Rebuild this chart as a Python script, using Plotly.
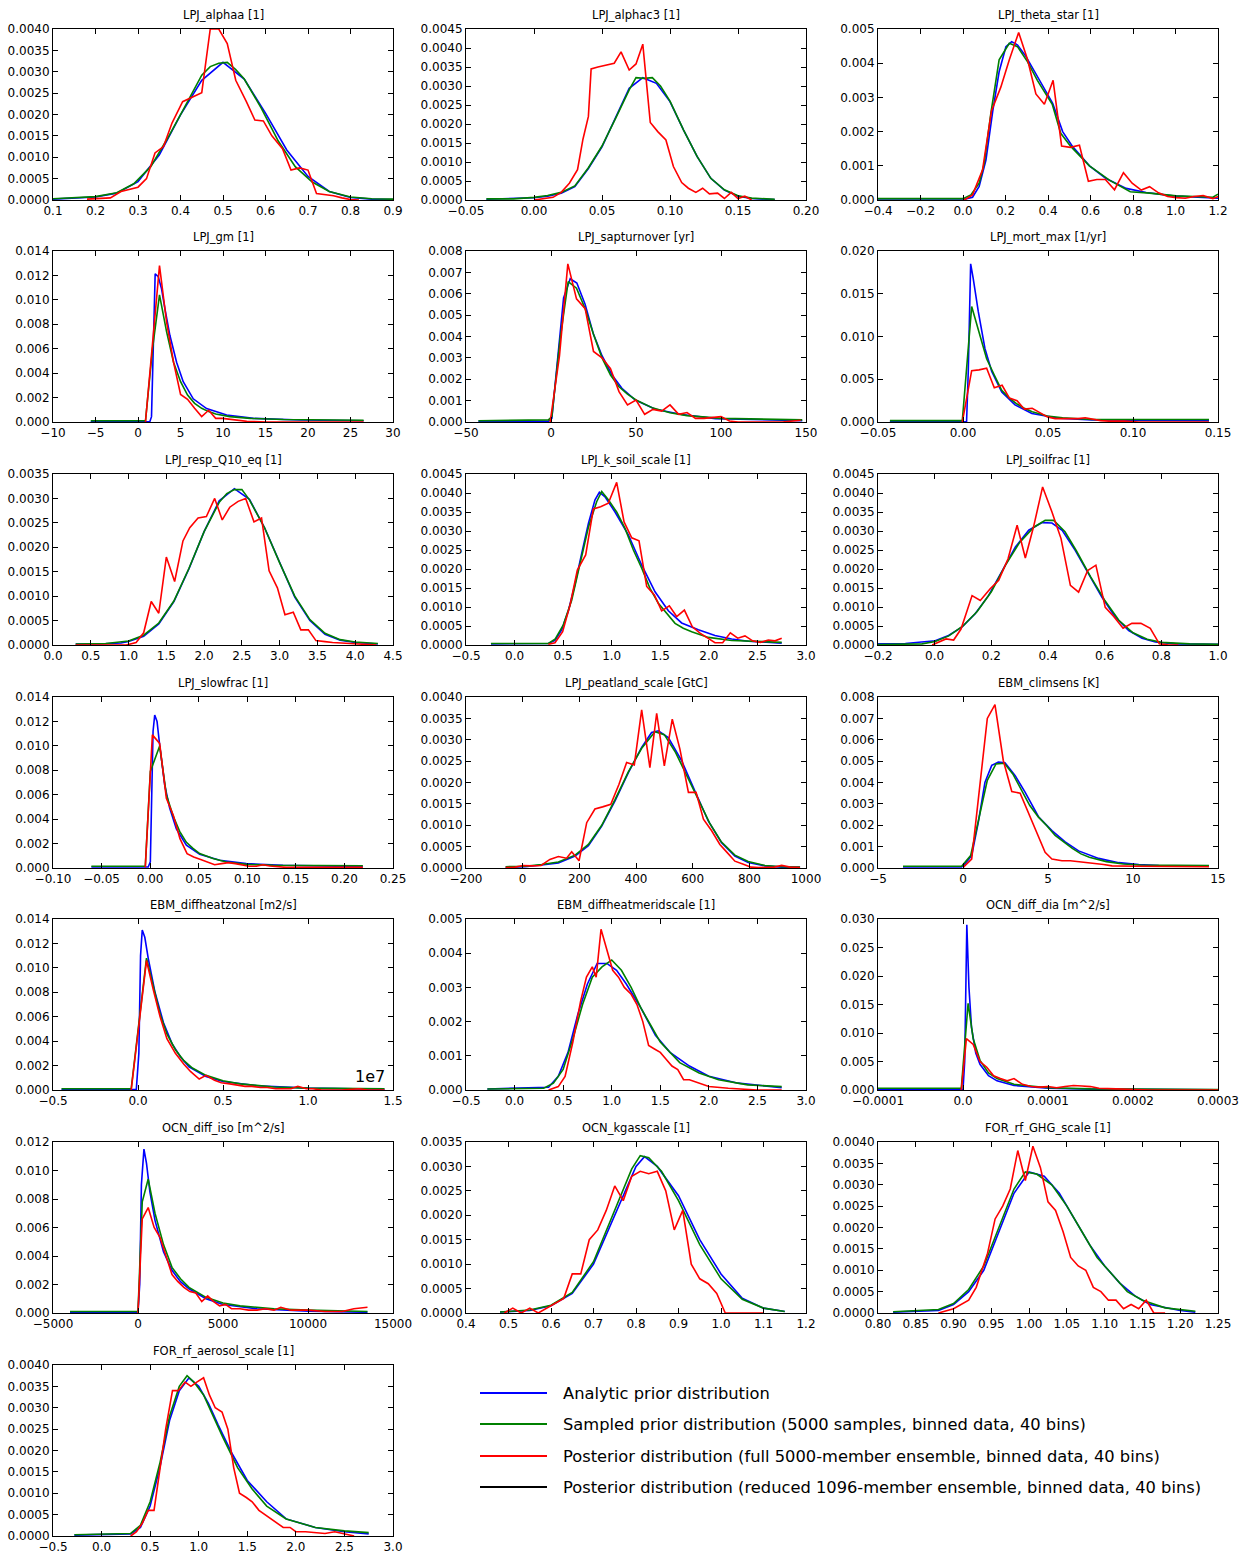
import plotly.graph_objects as go

MINUS = "\u2212"

# ---------------- Panel data ----------------
# Each series is a list of (x, y) pairs.

# 1 LPJ_alphaa [1]
alphaa_title = "LPJ_alphaa [1]"
alphaa_xt = ["0.1", "0.2", "0.3", "0.4", "0.5", "0.6", "0.7", "0.8", "0.9"]
alphaa_yt = ["0.0000", "0.0005", "0.0010", "0.0015", "0.0020", "0.0025", "0.0030", "0.0035", "0.0040"]
alphaa_blue = [(0.10, 0.00002), (0.15, 0.00004), (0.20, 0.00007), (0.25, 0.00016), (0.30, 0.00043), (0.35, 0.00105),
               (0.40, 0.00199), (0.45, 0.00280), (0.50, 0.00322), (0.55, 0.00283), (0.60, 0.00203), (0.65, 0.00117),
               (0.70, 0.00055), (0.75, 0.00020), (0.80, 0.00006), (0.85, 0.00002), (0.90, 0.00001)]
alphaa_green = [(0.10, 0.00003), (0.15, 0.00005), (0.20, 0.00008), (0.25, 0.00017), (0.29, 0.00038), (0.33, 0.00078),
                (0.37, 0.00145), (0.41, 0.00218), (0.45, 0.00292), (0.47, 0.00312), (0.49, 0.00320), (0.51, 0.00322),
                (0.53, 0.00305), (0.55, 0.00283), (0.59, 0.00215), (0.63, 0.00138), (0.67, 0.00078), (0.71, 0.00042),
                (0.75, 0.00020), (0.80, 0.00007), (0.85, 0.00003), (0.90, 0.00002)]
alphaa_red = [(0.18, 0.00002), (0.21, 0.00003), (0.235, 0.00005), (0.26, 0.00020), (0.28, 0.00025), (0.30, 0.00030),
              (0.32, 0.00050), (0.34, 0.00110), (0.36, 0.00125), (0.38, 0.00180), (0.405, 0.00230), (0.425, 0.00240),
              (0.45, 0.00251), (0.47, 0.00400), (0.49, 0.00400), (0.51, 0.00366), (0.53, 0.00280), (0.555, 0.00230),
              (0.575, 0.00187), (0.595, 0.00185), (0.615, 0.00150), (0.64, 0.00120), (0.66, 0.00070), (0.68, 0.00075),
              (0.70, 0.00070), (0.72, 0.00015), (0.74, 0.00013), (0.76, 0.00010), (0.78, 0.00005), (0.80, 0.00001),
              (0.82, 0.0)]

# 2 LPJ_alphac3 [1]
alphac3_title = "LPJ_alphac3 [1]"
alphac3_xt = ["\u22120.05", "0.00", "0.05", "0.10", "0.15", "0.20"]
alphac3_yt = ["0.0000", "0.0005", "0.0010", "0.0015", "0.0020", "0.0025", "0.0030", "0.0035", "0.0040", "0.0045"]
alphac3_blue = [(-0.035, 0.00002), (-0.02, 0.00003), (0.0, 0.00006), (0.01, 0.0001), (0.02, 0.00018), (0.03, 0.00035),
                (0.04, 0.00083), (0.05, 0.0014), (0.06, 0.00215), (0.07, 0.00294), (0.08, 0.00322), (0.09, 0.00307),
                (0.10, 0.00259), (0.11, 0.00184), (0.12, 0.00114), (0.13, 0.00057), (0.14, 0.00026), (0.15, 0.0001),
                (0.16, 0.00004), (0.177, 0.00001)]
alphac3_green = [(-0.035, 0.00003), (-0.015, 0.00003), (0.0, 0.00007), (0.01, 0.00012), (0.02, 0.0002), (0.03, 0.00037),
                 (0.04, 0.00085), (0.05, 0.00142), (0.06, 0.00215), (0.07, 0.0029), (0.075, 0.00322), (0.081, 0.0032),
                 (0.087, 0.00322), (0.093, 0.003), (0.10, 0.0026), (0.11, 0.00184), (0.12, 0.00114), (0.13, 0.00057),
                 (0.14, 0.00027), (0.15, 0.00011), (0.16, 0.00005), (0.177, 0.00002)]
alphac3_red = [(0.0, 0.0), (0.014, 0.00007), (0.020, 0.0002), (0.026, 0.00044), (0.032, 0.0008), (0.036, 0.0016),
               (0.040, 0.0022), (0.042, 0.00345), (0.047, 0.0035), (0.053, 0.00355), (0.059, 0.0036), (0.064, 0.0039),
               (0.070, 0.00342), (0.075, 0.00358), (0.080, 0.0041), (0.0855, 0.00204), (0.091, 0.0018), (0.097, 0.00158),
               (0.1025, 0.00088), (0.1086, 0.00046), (0.1135, 0.00031), (0.119, 0.0002), (0.124, 0.00031), (0.129, 0.00016),
               (0.135, 0.00018), (0.140, 0.00004), (0.145, 0.0002), (0.150, 0.00004), (0.155, 0.0001), (0.160, 0.0)]

# 3 LPJ_theta_star [1]
theta_title = "LPJ_theta_star [1]"
theta_xt = ["\u22120.4", "\u22120.2", "0.0", "0.2", "0.4", "0.6", "0.8", "1.0", "1.2"]
theta_yt = ["0.000", "0.001", "0.002", "0.003", "0.004", "0.005"]
theta_blue = [(-0.4, 0.00003), (0.013, 0.00003), (0.045, 0.00008), (0.076, 0.0004), (0.108, 0.00117), (0.14, 0.0026),
              (0.17, 0.00375), (0.202, 0.00448), (0.229, 0.00463), (0.257, 0.00453), (0.296, 0.0042), (0.359, 0.0035),
              (0.422, 0.00283), (0.469, 0.002), (0.516, 0.00156), (0.595, 0.001), (0.673, 0.00063), (0.768, 0.00034),
              (0.862, 0.00022), (0.988, 0.00012), (1.2, 0.00005)]
theta_green = [(-0.4, 0.00004), (0.0, 0.00004), (0.037, 0.00015), (0.076, 0.00049), (0.1, 0.00107), (0.131, 0.00253),
               (0.17, 0.0041), (0.218, 0.00458), (0.257, 0.00448), (0.304, 0.00404), (0.35, 0.0035), (0.42, 0.0028),
               (0.46, 0.00195), (0.508, 0.00156), (0.595, 0.001), (0.689, 0.00058), (0.787, 0.00024), (0.878, 0.0002),
               (1.003, 0.00012), (1.176, 0.00008), (1.2, 0.00017)]
theta_red = [(0.0055, 0.0), (0.045, 0.00015), (0.092, 0.00088), (0.134, 0.0026), (0.178, 0.0033), (0.218, 0.0041),
             (0.262, 0.0049), (0.304, 0.0041), (0.343, 0.0031), (0.383, 0.0028), (0.424, 0.0035), (0.464, 0.00158),
             (0.505, 0.00154), (0.548, 0.0016), (0.59, 0.00055), (0.63, 0.0006), (0.67, 0.0006), (0.713, 0.0003),
             (0.755, 0.0008), (0.796, 0.00049), (0.839, 0.00029), (0.878, 0.00039), (0.92, 0.00021), (0.963, 0.0001),
             (1.003, 0.00007), (1.046, 0.00005), (1.087, 0.0001), (1.13, 0.00013), (1.176, 0.00004), (1.2, 0.0001)]

# 4 LPJ_gm [1]
gm_title = "LPJ_gm [1]"
gm_xt = ["\u221210", "\u22125", "0", "5", "10", "15", "20", "25", "30"]
gm_yt = ["0.000", "0.002", "0.004", "0.006", "0.008", "0.010", "0.012", "0.014"]
gm_blue = [(-5.56, 0.00002), (1.39, 0.00002), (1.59, 0.00044), (2.02, 0.01214), (2.38, 0.0119), (2.77, 0.0109),
           (3.16, 0.0093), (3.75, 0.0071), (4.54, 0.0049), (5.32, 0.0033), (6.5, 0.0019), (8.07, 0.0011),
           (10.43, 0.00057), (13.58, 0.0003), (19.08, 0.00016), (26.54, 0.0001)]
gm_green = [(-5.56, 0.0001), (0.88, 0.0001), (1.71, 0.006), (2.53, 0.0104), (3.36, 0.0074), (4.18, 0.0049),
            (5.01, 0.0033), (5.83, 0.0022), (6.66, 0.00153), (7.49, 0.00112), (8.31, 0.00085), (9.14, 0.00065),
            (10.8, 0.00044), (13.2, 0.0003), (17.1, 0.0002), (26.54, 0.00014)]
gm_red = [(0.88, 0.0), (1.71, 0.0063), (2.53, 0.0128), (3.36, 0.0082), (4.18, 0.0049), (5.01, 0.00226),
          (5.83, 0.00186), (6.66, 0.00112), (7.49, 0.00044), (8.31, 0.00096), (9.14, 0.0003), (9.96, 0.0003),
          (10.79, 0.00022), (11.6, 0.00014), (12.8, 0.00005), (15.15, 0.0), (26.54, 0.0)]

# 5 LPJ_sapturnover [yr]
sap_title = "LPJ_sapturnover [yr]"
sap_xt = ["\u221250", "0", "50", "100", "150"]
sap_yt = ["0.000", "0.001", "0.002", "0.003", "0.004", "0.005", "0.006", "0.007", "0.008"]
sap_blue = [(-42.7, 0.00003), (-1.5, 0.00003), (0.5, 0.00017), (3.4, 0.0024), (7.4, 0.0058), (11.3, 0.0067),
            (15.2, 0.0065), (20.1, 0.0055), (25.0, 0.0041), (30.0, 0.0031), (35.9, 0.0022), (41.7, 0.00158),
            (49.6, 0.00103), (61.4, 0.0006), (77.0, 0.00035), (96.8, 0.00016), (147.8, 0.00006)]
sap_green = [(-42.7, 0.00006), (-1.5, 0.0001), (0.5, 0.00025), (5.4, 0.0039), (10.1, 0.00657), (15.0, 0.00626),
             (20.1, 0.0053), (25.0, 0.0041), (30.0, 0.003), (35.0, 0.0022), (40.0, 0.00165), (45.0, 0.0013),
             (50.0, 0.00103), (60.0, 0.00065), (70.0, 0.00043), (80.0, 0.0003), (100.0, 0.00017), (147.8, 0.0001)]
sap_red = [(-0.5, 0.0), (5.0, 0.0031), (9.9, 0.0074), (15.0, 0.00576), (20.1, 0.0053), (25.0, 0.0033), (30.0, 0.003),
           (35.0, 0.0025), (40.0, 0.00142), (45.0, 0.0008), (50.0, 0.00103), (55.1, 0.00036), (60.0, 0.00059),
           (65.1, 0.00051), (70.0, 0.0008), (75.1, 0.00036), (80.0, 0.00044), (85.0, 0.00017), (90.0, 0.00017),
           (95.0, 0.0002), (100.0, 0.00025), (105.0, 0.00005), (110.0, 0.0), (136.0, 0.0), (146.9, 0.00008)]

# 6 LPJ_mort_max [1/yr]
mort_title = "LPJ_mort_max [1/yr]"
mort_xt = ["\u22120.05", "0.00", "0.05", "0.10", "0.15"]
mort_yt = ["0.000", "0.005", "0.010", "0.015", "0.020"]
mort_blue = [(-0.043, 0.00003), (0.0021, 0.00003), (0.0031, 0.0059), (0.0045, 0.0185), (0.006, 0.0168), (0.009, 0.0129),
             (0.0129, 0.0086), (0.0169, 0.0059), (0.0228, 0.0035), (0.0306, 0.002), (0.0405, 0.001), (0.0562, 0.00043),
             (0.0759, 0.00023), (0.1152, 0.00016), (0.1447, 0.00016)]
mort_green = [(-0.043, 0.00016), (-0.0004, 0.00016), (0.0051, 0.0135), (0.0094, 0.0106), (0.0139, 0.0074),
              (0.0184, 0.0055), (0.0228, 0.0037), (0.0273, 0.0028), (0.0318, 0.0021), (0.0361, 0.0016),
              (0.0407, 0.0012), (0.0495, 0.0007), (0.0586, 0.0005), (0.0759, 0.0003), (0.1447, 0.0003)]
mort_red = [(-0.0004, 0.0), (0.0051, 0.006), (0.0094, 0.0061), (0.0139, 0.0063), (0.0184, 0.004), (0.023, 0.0043),
            (0.0273, 0.0028), (0.0318, 0.0025), (0.0361, 0.0015), (0.0407, 0.0016), (0.0452, 0.0011), (0.0497, 0.0006),
            (0.0542, 0.0004), (0.0586, 0.0004), (0.0631, 0.0004), (0.0676, 0.0004), (0.0719, 0.0005), (0.0765, 0.0003),
            (0.081, 0.00016), (0.0857, 0.0001), (0.0946, 0.0001), (0.1034, 0.0), (0.1447, 0.0)]

# 7 LPJ_resp_Q10_eq [1]
q10_title = "LPJ_resp_Q10_eq [1]"
q10_xt = ["0.0", "0.5", "1.0", "1.5", "2.0", "2.5", "3.0", "3.5", "4.0", "4.5"]
q10_yt = ["0.0000", "0.0005", "0.0010", "0.0015", "0.0020", "0.0025", "0.0030", "0.0035"]
q10_blue = [(0.3, 0.00002), (0.6, 0.00002), (0.9, 0.00004), (1.0, 0.00007), (1.2, 0.00018), (1.4, 0.00043),
            (1.6, 0.00089), (1.8, 0.00156), (2.0, 0.00232), (2.2, 0.00295), (2.4, 0.0032), (2.6, 0.00298),
            (2.8, 0.0024), (3.0, 0.00168), (3.2, 0.00098), (3.4, 0.0005), (3.6, 0.00022), (3.8, 0.0001),
            (4.0, 0.00005), (4.3, 0.00002)]
q10_green = [(0.3, 0.00002), (0.7, 0.00003), (1.0, 0.00008), (1.2, 0.0002), (1.4, 0.00045), (1.6, 0.0009),
             (1.8, 0.00157), (2.0, 0.00232), (2.2, 0.00292), (2.3, 0.0031), (2.4, 0.00318), (2.5, 0.00318),
             (2.6, 0.00297), (2.8, 0.0024), (3.0, 0.00168), (3.2, 0.001), (3.4, 0.00052), (3.6, 0.00024),
             (3.8, 0.00011), (4.0, 0.00006), (4.3, 0.00003)]
q10_red = [(0.3, 0.0), (0.97, 0.0), (1.1, 0.00005), (1.2, 0.00025), (1.3, 0.00089), (1.4, 0.00065), (1.5, 0.0018),
           (1.61, 0.0013), (1.72, 0.00213), (1.81, 0.0024), (1.92, 0.0026), (2.03, 0.00263), (2.14, 0.003),
           (2.24, 0.00256), (2.34, 0.00282), (2.45, 0.00294), (2.55, 0.003), (2.66, 0.00252), (2.76, 0.0026),
           (2.86, 0.00152), (2.97, 0.00117), (3.07, 0.00062), (3.18, 0.00067), (3.28, 0.00031), (3.38, 0.00031),
           (3.48, 0.00009), (3.6, 0.00007), (3.7, 0.00005), (3.93, 0.00003), (4.28, 0.0)]

# 8 LPJ_k_soil_scale [1]
ksoil_title = "LPJ_k_soil_scale [1]"
ksoil_xt = ["\u22120.5", "0.0", "0.5", "1.0", "1.5", "2.0", "2.5", "3.0"]
ksoil_yt = ["0.0000", "0.0005", "0.0010", "0.0015", "0.0020", "0.0025", "0.0030", "0.0035", "0.0040", "0.0045"]
ksoil_blue = [(-0.243, 0.00003), (0.348, 0.00004), (0.416, 0.00012), (0.485, 0.0004), (0.554, 0.0009),
              (0.622, 0.0016), (0.69, 0.0024), (0.76, 0.0032), (0.828, 0.00382), (0.873, 0.00402), (0.931, 0.0039),
              (1.034, 0.0035), (1.171, 0.0029), (1.309, 0.0021), (1.446, 0.0014), (1.583, 0.0009), (1.72, 0.00058),
              (1.892, 0.0004), (2.063, 0.00025), (2.235, 0.00016), (2.407, 0.0001), (2.75, 0.00005)]
ksoil_green = [(-0.243, 0.00004), (0.348, 0.00004), (0.416, 0.00015), (0.502, 0.00053), (0.588, 0.00118),
               (0.674, 0.00215), (0.76, 0.0031), (0.845, 0.00377), (0.897, 0.00404), (0.965, 0.00382),
               (1.051, 0.0035), (1.137, 0.00307), (1.223, 0.0025), (1.309, 0.00202), (1.394, 0.00149),
               (1.48, 0.0011), (1.566, 0.00083), (1.652, 0.00057), (1.737, 0.00044), (1.823, 0.00035),
               (1.995, 0.0002), (2.235, 0.00012), (2.75, 0.00007)]
ksoil_red = [(0.348, 0.00002), (0.416, 0.00006), (0.495, 0.00035), (0.571, 0.00105), (0.646, 0.00197),
             (0.732, 0.00237), (0.811, 0.00358), (0.886, 0.00364), (0.965, 0.00373), (1.051, 0.00428),
             (1.127, 0.00324), (1.206, 0.00282), (1.281, 0.00274), (1.36, 0.00154), (1.439, 0.00132),
             (1.514, 0.0009), (1.593, 0.00103), (1.669, 0.00075), (1.748, 0.00092), (1.83, 0.00048),
             (1.909, 0.00031), (1.988, 0.00018), (2.063, 0.00006), (2.142, 0.00006), (2.221, 0.00032),
             (2.297, 0.00018), (2.372, 0.00024), (2.451, 0.00011), (2.53, 0.00007), (2.612, 0.00013),
             (2.681, 0.00011), (2.75, 0.00018)]

# 9 LPJ_soilfrac [1]
soilfrac_title = "LPJ_soilfrac [1]"
soilfrac_xt = ["\u22120.2", "0.0", "0.2", "0.4", "0.6", "0.8", "1.0"]
soilfrac_yt = ["0.0000", "0.0005", "0.0010", "0.0015", "0.0020", "0.0025", "0.0030", "0.0035", "0.0040", "0.0045"]
soilfrac_blue = [(-0.2, 0.00003), (-0.1035, 0.00004), (0.002, 0.00011), (0.049, 0.00025), (0.096, 0.00047),
                 (0.143, 0.00082), (0.19, 0.0013), (0.238, 0.00196), (0.285, 0.00258), (0.332, 0.00302),
                 (0.379, 0.00322), (0.414, 0.00321), (0.45, 0.00302), (0.496, 0.00249), (0.544, 0.00188),
                 (0.59, 0.00126), (0.638, 0.00073), (0.685, 0.00038), (0.732, 0.00018), (0.779, 0.00008),
                 (0.85, 0.00003), (1.0, 0.00002)]
soilfrac_green = [(-0.2, 0.00001), (-0.045, 0.00003), (0.002, 0.00009), (0.05, 0.00024), (0.1, 0.0005),
                  (0.15, 0.00088), (0.2, 0.0014), (0.25, 0.0021), (0.3, 0.0027), (0.35, 0.0031), (0.39, 0.00328),
                  (0.42, 0.00328), (0.46, 0.00298), (0.5, 0.00248), (0.55, 0.0018), (0.6, 0.00118), (0.65, 0.00065),
                  (0.7, 0.00032), (0.75, 0.00015), (0.8, 0.00007), (0.9, 0.00003), (1.0, 0.00002)]
soilfrac_red = [(-0.009, 0.0), (0.014, 0.00007), (0.04, 0.00016), (0.067, 0.00013), (0.093, 0.00042), (0.132, 0.0013),
                (0.161, 0.00117), (0.196, 0.00148), (0.226, 0.0017), (0.259, 0.00227), (0.291, 0.00315),
                (0.32, 0.00229), (0.349, 0.00311), (0.381, 0.00416), (0.414, 0.0035), (0.446, 0.0028),
                (0.479, 0.00157), (0.508, 0.00139), (0.54, 0.00196), (0.569, 0.0021), (0.602, 0.00099),
                (0.632, 0.00075), (0.665, 0.00044), (0.696, 0.00057), (0.728, 0.00057), (0.761, 0.00044),
                (0.793, 0.00003), (0.826, 0.0), (0.86, 0.0)]

# 10 LPJ_slowfrac [1]
slow_title = "LPJ_slowfrac [1]"
slow_xt = ["\u22120.10", "\u22120.05", "0.00", "0.05", "0.10", "0.15", "0.20", "0.25"]
slow_yt = ["0.000", "0.002", "0.004", "0.006", "0.008", "0.010", "0.012", "0.014"]
slow_blue = [(-0.0605, 0.00008), (-0.002, 0.00008), (0.0002, 0.0005), (0.003, 0.0112), (0.0047, 0.01253),
             (0.0071, 0.012), (0.0098, 0.01007), (0.015, 0.0068), (0.0201, 0.0049), (0.027, 0.0032),
             (0.0373, 0.00186), (0.051, 0.00112), (0.0716, 0.00063), (0.099, 0.00036), (0.1368, 0.00022),
             (0.219, 0.00011)]
slow_green = [(-0.0605, 0.00014), (-0.005, 0.00014), (0.0002, 0.0079), (0.0098, 0.00999), (0.0167, 0.006),
              (0.0235, 0.0043), (0.0304, 0.003), (0.0373, 0.0021), (0.0441, 0.0016), (0.051, 0.00118),
              (0.0647, 0.00077), (0.0784, 0.00049), (0.099, 0.0003), (0.1265, 0.00022), (0.219, 0.00019)]
slow_red = [(-0.005, 0.00005), (0.0023, 0.0109), (0.0098, 0.0102), (0.0167, 0.0057), (0.0239, 0.0043),
            (0.0307, 0.0024), (0.038, 0.00118), (0.0448, 0.0009), (0.052, 0.0007), (0.0592, 0.0005),
            (0.0664, 0.00027), (0.0736, 0.00036), (0.0805, 0.00044), (0.0877, 0.00036), (0.0949, 0.00022),
            (0.1018, 0.00014), (0.1093, 0.00014), (0.1162, 0.00027), (0.1231, 0.00016), (0.13, 0.0001),
            (0.14, 0.00005), (0.219, 0.00005)]

# 11 LPJ_peatland_scale [GtC]
peat_title = "LPJ_peatland_scale [GtC]"
peat_xt = ["\u2212200", "0", "200", "400", "600", "800", "1000"]
peat_yt = ["0.0000", "0.0005", "0.0010", "0.0015", "0.0020", "0.0025", "0.0030", "0.0035", "0.0040"]
peat_blue = [(-60, 0.00002), (8, 0.00003), (67, 0.00007), (126, 0.00012), (185, 0.00028), (232, 0.00052),
             (279, 0.00098), (326, 0.00157), (373, 0.00223), (420, 0.00282), (455, 0.00317), (479, 0.00321),
             (514, 0.00305), (561, 0.00251), (608, 0.0018), (655, 0.0011), (702, 0.00059), (749, 0.00028),
             (796, 0.00013), (855, 0.00005), (914, 0.00002), (979, 0.00002)]
peat_green = [(-60, 0.00003), (8, 0.00004), (67, 0.00008), (126, 0.00014), (185, 0.0003), (232, 0.00055),
              (279, 0.001), (326, 0.0016), (373, 0.00225), (420, 0.0028), (467, 0.00319), (500, 0.00312),
              (540, 0.0027), (580, 0.00215), (620, 0.0016), (660, 0.00105), (700, 0.00062), (749, 0.0003),
              (796, 0.00015), (855, 0.00006), (914, 0.00003), (979, 0.00002)]
peat_red = [(-60, 0.00001), (-27, 0.00002), (2, 0.00006), (32, 0.00005), (65, 0.00006), (96, 0.0002), (126, 0.00027),
            (155, 0.00023), (173, 0.00038), (199, 0.00017), (226, 0.00106), (255, 0.00138), (282, 0.00143),
            (311, 0.00149), (340, 0.00196), (367, 0.00247), (394, 0.00241), (420, 0.0037), (449, 0.00235),
            (473, 0.00362), (500, 0.00239), (528, 0.00348), (555, 0.00278), (585, 0.00177), (612, 0.00177),
            (638, 0.00114), (667, 0.00087), (696, 0.00055), (722, 0.00036), (749, 0.00016), (779, 0.00009),
            (806, 0.00002), (832, 0.00001), (861, 0.00001), (888, 0.00002), (914, 0.00006), (944, 0.00002),
            (979, 0.00001)]

# 12 EBM_climsens [K]
clim_title = "EBM_climsens [K]"
clim_xt = ["\u22125", "0", "5", "10", "15"]
clim_yt = ["0.000", "0.001", "0.002", "0.003", "0.004", "0.005", "0.006", "0.007", "0.008"]
clim_blue = [(-3.53, 0.00005), (-0.08, 0.00005), (0.11, 0.00019), (0.51, 0.00058), (0.9, 0.00214), (1.29, 0.004),
             (1.69, 0.0048), (2.08, 0.00495), (2.47, 0.00492), (3.06, 0.00433), (3.65, 0.00355), (4.44, 0.0024),
             (5.23, 0.00175), (6.01, 0.00122), (6.8, 0.0008), (7.98, 0.00045), (9.16, 0.00025), (10.34, 0.00016),
             (11.52, 0.00012), (14.47, 0.00008)]
clim_green = [(-3.53, 0.00008), (-0.08, 0.00008), (0.45, 0.00058), (0.94, 0.0023), (1.43, 0.0041), (1.94, 0.00487),
              (2.43, 0.0049), (2.93, 0.0044), (3.44, 0.00363), (3.93, 0.00292), (4.44, 0.00238), (4.93, 0.00198),
              (5.42, 0.00152), (5.93, 0.0012), (6.43, 0.00092), (6.94, 0.00066), (7.43, 0.0005), (8.43, 0.0003),
              (9.43, 0.00019), (10.44, 0.00014), (14.47, 0.00011)]
clim_red = [(0.01, 0.00003), (0.51, 0.00042), (1.43, 0.007), (1.88, 0.00764), (2.37, 0.00503), (2.87, 0.00358),
            (3.36, 0.0035), (3.85, 0.0026), (4.34, 0.00167), (4.83, 0.00073), (5.23, 0.00042), (5.82, 0.00034),
            (6.31, 0.00034), (6.8, 0.0003), (7.29, 0.00023), (7.78, 0.00022), (8.27, 0.00016), (8.77, 0.0001),
            (9.26, 0.0001), (9.75, 0.0001), (10.24, 0.00008), (14.47, 0.00006)]

# 13 EBM_diffheatzonal [m2/s]  (x in units of 1e7)
zonal_title = "EBM_diffheatzonal [m2/s]"
zonal_xt = ["\u22120.5", "0.0", "0.5", "1.0", "1.5"]
zonal_yt = ["0.000", "0.002", "0.004", "0.006", "0.008", "0.010", "0.012", "0.014"]
zonal_offset = "1e7"
zonal_blue = [(-0.45, 0.00003), (-0.01, 0.00003), (0.005, 0.003), (0.015, 0.011), (0.025, 0.0131), (0.04, 0.0125),
              (0.06, 0.0108), (0.1, 0.008), (0.15, 0.0055), (0.2, 0.0038), (0.25, 0.0027), (0.3, 0.0019),
              (0.4, 0.0011), (0.5, 0.0007), (0.7, 0.00035), (1.0, 0.00015), (1.45, 0.00006)]
zonal_green = [(-0.45, 0.0001), (-0.04, 0.0001), (0.05, 0.0108), (0.09, 0.0084), (0.13, 0.0062), (0.17, 0.0046),
               (0.22, 0.0033), (0.27, 0.0024), (0.32, 0.0018), (0.4, 0.0012), (0.5, 0.00075), (0.6, 0.0005),
               (0.8, 0.00025), (1.0, 0.00015), (1.45, 0.0001)]
zonal_red = [(-0.04, 0.0), (0.05, 0.0106), (0.09, 0.0082), (0.13, 0.006), (0.17, 0.0042), (0.22, 0.003),
             (0.27, 0.0021), (0.31, 0.0015), (0.36, 0.0009), (0.4, 0.0012), (0.45, 0.0008), (0.49, 0.0006),
             (0.54, 0.0005), (0.58, 0.0004), (0.63, 0.0003), (0.67, 0.0003), (0.72, 0.0002), (0.76, 0.0002),
             (0.81, 0.0001), (0.85, 0.0001), (0.9, 0.0001), (0.94, 0.0003), (0.99, 0.0001), (1.03, 0.0001),
             (1.08, 0.0), (1.2, 0.0), (1.3, 0.0001), (1.35, 0.0), (1.45, 0.0)]

# 14 EBM_diffheatmeridscale [1]
merid_title = "EBM_diffheatmeridscale [1]"
merid_xt = ["\u22120.5", "0.0", "0.5", "1.0", "1.5", "2.0", "2.5", "3.0"]
merid_yt = ["0.000", "0.001", "0.002", "0.003", "0.004", "0.005"]
merid_blue = [(-0.28, 0.00003), (0.35, 0.00008), (0.45, 0.0004), (0.55, 0.0011), (0.65, 0.0022), (0.75, 0.0031),
              (0.85, 0.0037), (0.95, 0.0037), (1.05, 0.0035), (1.15, 0.0031), (1.3, 0.0024), (1.45, 0.0016),
              (1.6, 0.0011), (1.8, 0.0007), (2.0, 0.0004), (2.3, 0.0002), (2.75, 0.00007)]
merid_green = [(-0.28, 0.00003), (0.3, 0.00005), (0.4, 0.0002), (0.5, 0.0006), (0.6, 0.0015), (0.7, 0.0025),
               (0.8, 0.0033), (0.9, 0.0036), (1.0, 0.0038), (1.1, 0.0035), (1.2, 0.003), (1.3, 0.0024),
               (1.4, 0.0019), (1.5, 0.0014), (1.7, 0.0008), (1.9, 0.0005), (2.1, 0.0003), (2.4, 0.00015),
               (2.75, 0.0001)]
merid_red = [(0.35, 0.0), (0.45, 0.0001), (0.52, 0.0004), (0.6, 0.0014), (0.68, 0.0026), (0.74, 0.0033),
             (0.8, 0.0036), (0.84, 0.0033), (0.89, 0.0047), (0.95, 0.0041), (1.01, 0.0035), (1.07, 0.0033),
             (1.13, 0.003), (1.2, 0.0028), (1.26, 0.0025), (1.32, 0.002), (1.38, 0.0013), (1.44, 0.0012),
             (1.5, 0.0011), (1.56, 0.0009), (1.62, 0.0007), (1.68, 0.0006), (1.74, 0.0003), (1.8, 0.0003),
             (1.9, 0.0002), (2.0, 0.0001), (2.2, 0.00005), (2.5, 0.0), (2.75, 0.0)]

# 15 OCN_diff_dia [m^2/s]
dia_title = "OCN_diff_dia [m^2/s]"
dia_xt = ["\u22120.0001", "0.0", "0.0001", "0.0002", "0.0003"]
dia_yt = ["0.000", "0.005", "0.010", "0.015", "0.020", "0.025", "0.030"]
dia_blue = [(-0.0001, 0.00005), (0.0, 0.00005), (0.000002, 0.005), (0.0000045, 0.029), (0.000007, 0.018),
            (0.00001, 0.011), (0.000015, 0.0065), (0.00002, 0.0045), (0.00003, 0.0025), (0.00004, 0.0016),
            (0.00006, 0.0008), (0.0001, 0.0003), (0.00015, 0.00015), (0.0002, 0.0001), (0.0003, 0.00005)]
dia_green = [(-0.0001, 0.0003), (-0.000002, 0.0003), (0.000006, 0.0152), (0.000012, 0.009), (0.00002, 0.0052),
             (0.00003, 0.003), (0.00004, 0.002), (0.00006, 0.001), (0.0001, 0.0004), (0.00015, 0.0002),
             (0.0003, 0.0001)]
dia_red = [(-0.000002, 0.0), (0.000004, 0.009), (0.000012, 0.008), (0.00002, 0.005), (0.000028, 0.004),
           (0.000036, 0.0025), (0.000044, 0.002), (0.000052, 0.0016), (0.00006, 0.002), (0.00007, 0.001),
           (0.00008, 0.0006), (0.00009, 0.0005), (0.0001, 0.0006), (0.00011, 0.0004), (0.00012, 0.0006),
           (0.00013, 0.0008), (0.00014, 0.0007), (0.00015, 0.0006), (0.00016, 0.0003), (0.00017, 0.0003),
           (0.00018, 0.0002), (0.0002, 0.0001), (0.00022, 0.0), (0.0003, 0.0)]

# 16 OCN_diff_iso [m^2/s]
iso_title = "OCN_diff_iso [m^2/s]"
iso_xt = ["\u22125000", "0", "5000", "10000", "15000"]
iso_yt = ["0.000", "0.002", "0.004", "0.006", "0.008", "0.010", "0.012"]
iso_blue = [(-4000, 0.00003), (0, 0.00003), (100, 0.002), (200, 0.009), (350, 0.0115), (500, 0.0105), (700, 0.0085),
            (1000, 0.0065), (1500, 0.0043), (2000, 0.003), (2500, 0.0022), (3000, 0.0017), (4000, 0.001),
            (5000, 0.0006), (7000, 0.0003), (10000, 0.00012), (13500, 0.00005)]
iso_green = [(-4000, 0.0001), (0, 0.0001), (250, 0.0078), (600, 0.0094), (1000, 0.007), (1500, 0.0048),
             (2000, 0.0032), (2500, 0.0024), (3000, 0.0018), (4000, 0.0011), (5000, 0.0007), (6000, 0.0005),
             (8000, 0.0003), (10000, 0.0002), (13500, 0.0001)]
iso_red = [(0, 0.0), (250, 0.0066), (600, 0.0074), (950, 0.006), (1300, 0.0053), (1650, 0.004), (2000, 0.0027),
           (2350, 0.0022), (2700, 0.0018), (3050, 0.0015), (3400, 0.0014), (3750, 0.0008), (4100, 0.0012),
           (4450, 0.0008), (4800, 0.0005), (5150, 0.0006), (5500, 0.0003), (6000, 0.0003), (6500, 0.0002),
           (7000, 0.0002), (7500, 0.0003), (8000, 0.0002), (8400, 0.0004), (9000, 0.0002), (10000, 0.0002),
           (11000, 0.0001), (12000, 0.0001), (12700, 0.0003), (13500, 0.0004)]

# 17 OCN_kgasscale [1]
kgas_title = "OCN_kgasscale [1]"
kgas_xt = ["0.4", "0.5", "0.6", "0.7", "0.8", "0.9", "1.0", "1.1", "1.2"]
kgas_yt = ["0.0000", "0.0005", "0.0010", "0.0015", "0.0020", "0.0025", "0.0030", "0.0035"]
kgas_blue = [(0.48, 0.00002), (0.55, 0.00005), (0.6, 0.00015), (0.65, 0.0004), (0.7, 0.001), (0.75, 0.002),
             (0.8, 0.003), (0.82, 0.0032), (0.85, 0.003), (0.9, 0.0024), (0.95, 0.0015), (1.0, 0.0008),
             (1.05, 0.0003), (1.1, 0.0001), (1.15, 0.00003)]
kgas_green = [(0.48, 0.00002), (0.55, 0.00006), (0.6, 0.00016), (0.65, 0.00042), (0.7, 0.00105), (0.75, 0.0021),
              (0.79, 0.00295), (0.81, 0.00322), (0.83, 0.00318), (0.86, 0.0029), (0.9, 0.0023), (0.95, 0.0014),
              (1.0, 0.0007), (1.05, 0.00028), (1.1, 0.0001), (1.15, 0.00003)]
kgas_red = [(0.49, 0.0), (0.51, 0.0001), (0.53, 0.0), (0.55, 0.0001), (0.57, 0.0), (0.59, 0.0001), (0.61, 0.0002),
            (0.63, 0.0003), (0.65, 0.0008), (0.67, 0.0008), (0.69, 0.0015), (0.71, 0.0017), (0.73, 0.0021),
            (0.75, 0.0026), (0.77, 0.0023), (0.79, 0.0028), (0.81, 0.0029), (0.83, 0.00285), (0.85, 0.0029),
            (0.87, 0.0025), (0.89, 0.0017), (0.91, 0.0021), (0.93, 0.001), (0.95, 0.0007), (0.97, 0.0006),
            (0.99, 0.0004), (1.01, 0.0), (1.03, 0.0), (1.1, 0.0)]

# 18 FOR_rf_GHG_scale [1]
ghg_title = "FOR_rf_GHG_scale [1]"
ghg_xt = ["0.80", "0.85", "0.90", "0.95", "1.00", "1.05", "1.10", "1.15", "1.20", "1.25"]
ghg_yt = ["0.0000", "0.0005", "0.0010", "0.0015", "0.0020", "0.0025", "0.0030", "0.0035", "0.0040"]
ghg_blue = [(0.82, 0.00002), (0.88, 0.00006), (0.9, 0.0002), (0.92, 0.0005), (0.94, 0.001), (0.96, 0.0019),
            (0.98, 0.0028), (1.0, 0.0033), (1.02, 0.0032), (1.04, 0.0028), (1.06, 0.0022), (1.08, 0.0016),
            (1.1, 0.0011), (1.12, 0.0007), (1.14, 0.0004), (1.16, 0.0002), (1.2, 0.00006), (1.22, 0.00002)]
ghg_green = [(0.82, 0.00003), (0.88, 0.00008), (0.9, 0.00022), (0.92, 0.00055), (0.94, 0.0011), (0.96, 0.002),
             (0.98, 0.0029), (0.995, 0.0033), (1.01, 0.00325), (1.03, 0.003), (1.05, 0.0025), (1.07, 0.0019),
             (1.09, 0.0013), (1.11, 0.0009), (1.13, 0.0005), (1.15, 0.0003), (1.18, 0.00012), (1.22, 0.00004)]
ghg_red = [(0.88, 0.0), (0.9, 0.0001), (0.92, 0.0003), (0.93, 0.0006), (0.945, 0.0014), (0.955, 0.0022),
           (0.965, 0.0025), (0.975, 0.0029), (0.985, 0.0038), (0.995, 0.0031), (1.005, 0.0039), (1.015, 0.0034),
           (1.025, 0.0026), (1.035, 0.0024), (1.045, 0.0019), (1.055, 0.0013), (1.065, 0.0011), (1.075, 0.001),
           (1.085, 0.0006), (1.095, 0.0005), (1.105, 0.0003), (1.115, 0.0003), (1.125, 0.0001), (1.135, 0.0002),
           (1.145, 0.0001), (1.155, 0.0003), (1.165, 0.0), (1.18, 0.0)]

# 19 FOR_rf_aerosol_scale [1]
aer_title = "FOR_rf_aerosol_scale [1]"
aer_xt = ["\u22120.5", "0.0", "0.5", "1.0", "1.5", "2.0", "2.5", "3.0"]
aer_yt = ["0.0000", "0.0005", "0.0010", "0.0015", "0.0020", "0.0025", "0.0030", "0.0035", "0.0040"]
aer_blue = [(-0.28, 0.00002), (0.3, 0.00005), (0.4, 0.0002), (0.5, 0.0007), (0.6, 0.0016), (0.7, 0.0027),
            (0.8, 0.0034), (0.9, 0.0037), (1.0, 0.0035), (1.1, 0.0031), (1.2, 0.0026), (1.35, 0.0019),
            (1.5, 0.0013), (1.7, 0.0008), (1.9, 0.0004), (2.2, 0.0002), (2.5, 0.0001), (2.75, 0.00005)]
aer_green = [(-0.28, 0.00003), (0.3, 0.00006), (0.4, 0.00025), (0.5, 0.0008), (0.6, 0.0017), (0.7, 0.0028),
             (0.8, 0.0035), (0.88, 0.00375), (0.95, 0.0036), (1.05, 0.0033), (1.15, 0.0028), (1.25, 0.0023),
             (1.4, 0.0016), (1.55, 0.0011), (1.7, 0.0007), (1.9, 0.0004), (2.2, 0.0002), (2.5, 0.00012),
             (2.75, 0.00008)]
aer_red = [(0.3, 0.0), (0.36, 0.0001), (0.42, 0.0003), (0.48, 0.0006), (0.54, 0.0006), (0.6, 0.0016), (0.66, 0.0025),
           (0.73, 0.0034), (0.79, 0.0034), (0.86, 0.0036), (0.92, 0.0035), (0.98, 0.0036), (1.05, 0.0037),
           (1.11, 0.0033), (1.17, 0.003), (1.24, 0.0029), (1.3, 0.0025), (1.36, 0.0016), (1.42, 0.001),
           (1.49, 0.0009), (1.55, 0.0008), (1.62, 0.0006), (1.68, 0.0005), (1.74, 0.0004), (1.81, 0.0003),
           (1.87, 0.0002), (1.94, 0.0002), (2.0, 0.0001), (2.1, 0.0001), (2.2, 0.00008), (2.3, 0.00006),
           (2.4, 0.0001), (2.5, 0.00005), (2.6, 0.0)]

legend_labels = [
    "Analytic prior distribution",
    "Sampled prior distribution (5000 samples, binned data, 40 bins)",
    "Posterior distribution (full 5000-member ensemble, binned data, 40 bins)",
    "Posterior distribution (reduced 1096-member ensemble, binned data, 40 bins)",
]
series_colors = ["#0000ff", "#008000", "#ff0000", "#000000"]

panels = [
    (alphaa_title, alphaa_xt, alphaa_yt, alphaa_blue, alphaa_green, alphaa_red),
    (alphac3_title, alphac3_xt, alphac3_yt, alphac3_blue, alphac3_green, alphac3_red),
    (theta_title, theta_xt, theta_yt, theta_blue, theta_green, theta_red),
    (gm_title, gm_xt, gm_yt, gm_blue, gm_green, gm_red),
    (sap_title, sap_xt, sap_yt, sap_blue, sap_green, sap_red),
    (mort_title, mort_xt, mort_yt, mort_blue, mort_green, mort_red),
    (q10_title, q10_xt, q10_yt, q10_blue, q10_green, q10_red),
    (ksoil_title, ksoil_xt, ksoil_yt, ksoil_blue, ksoil_green, ksoil_red),
    (soilfrac_title, soilfrac_xt, soilfrac_yt, soilfrac_blue, soilfrac_green, soilfrac_red),
    (slow_title, slow_xt, slow_yt, slow_blue, slow_green, slow_red),
    (peat_title, peat_xt, peat_yt, peat_blue, peat_green, peat_red),
    (clim_title, clim_xt, clim_yt, clim_blue, clim_green, clim_red),
    (zonal_title, zonal_xt, zonal_yt, zonal_blue, zonal_green, zonal_red),
    (merid_title, merid_xt, merid_yt, merid_blue, merid_green, merid_red),
    (dia_title, dia_xt, dia_yt, dia_blue, dia_green, dia_red),
    (iso_title, iso_xt, iso_yt, iso_blue, iso_green, iso_red),
    (kgas_title, kgas_xt, kgas_yt, kgas_blue, kgas_green, kgas_red),
    (ghg_title, ghg_xt, ghg_yt, ghg_blue, ghg_green, ghg_red),
    (aer_title, aer_xt, aer_yt, aer_blue, aer_green, aer_red),
]

# ---------------- Layout geometry (pixels) ----------------
W, H = 1246, 1555
COL_LEFT = [53, 466, 878]
PW = 340
ROW_TOP = [29, 251, 474, 697, 919, 1142, 1365]
PH = 171
FONT = "DejaVu Sans"


def num(s):
    return float(s.replace(MINUS, "-"))


fig = go.Figure()
layout = dict(
    template="none",
    width=W, height=H, autosize=False,
    margin=dict(l=0, r=0, t=0, b=0, pad=0, autoexpand=False),
    paper_bgcolor="white", plot_bgcolor="white", showlegend=False,
    font=dict(family=FONT, size=12, color="black"),
)
annotations = []

for i, (title, xt, yt, blue, green, red) in enumerate(panels):
    r, c = divmod(i, 3)
    n = i + 1
    sx = "" if n == 1 else str(n)
    x0 = COL_LEFT[c] / W
    x1 = (COL_LEFT[c] + PW) / W
    y1 = 1 - ROW_TOP[r] / H
    y0 = 1 - (ROW_TOP[r] + PH) / H
    xv = [num(s) for s in xt]
    yv = [num(s) for s in yt]
    axis_common = dict(
        showline=True, linecolor="black", linewidth=1, mirror="ticks",
        ticks="inside", ticklen=5, tickwidth=1, tickcolor="black",
        showgrid=False, zeroline=False, tickangle=0, automargin=False,
        tickfont=dict(family=FONT, size=12, color="black"),
        tickmode="array",
    )
    layout["xaxis" + sx] = dict(axis_common, domain=[x0, x1], range=[xv[0], xv[-1]],
                                tickvals=xv, ticktext=xt, anchor="y" + sx)
    layout["yaxis" + sx] = dict(axis_common, domain=[y0, y1], range=[yv[0], yv[-1]],
                                tickvals=yv, ticktext=yt, anchor="x" + sx)
    for pts, color in ((blue, series_colors[0]), (green, series_colors[1]), (red, series_colors[2])):
        fig.add_trace(go.Scatter(
            x=[p[0] for p in pts], y=[p[1] for p in pts], mode="lines",
            line=dict(color=color, width=1.6), xaxis="x" + sx, yaxis="y" + sx,
            hoverinfo="skip", showlegend=False))
    annotations.append(dict(
        text=title, x=(x0 + x1) / 2, y=y1, xref="paper", yref="paper",
        xanchor="center", yanchor="bottom", yshift=5, showarrow=False,
        font=dict(family=FONT, size=11.5, color="black")))

# offset text for the zonal diffusivity panel (x values in units of 1e7)
annotations.append(dict(
    text=zonal_offset, x=(COL_LEFT[0] + PW - 6) / W, y=1 - (ROW_TOP[4] + PH - 14) / H,
    xref="paper", yref="paper", xanchor="right", yanchor="middle", showarrow=False,
    font=dict(family=FONT, size=16, color="black")))

# legend (drawn as key lines + text)
shapes = []
LEG_Y = [1393, 1424, 1456, 1487]
for label, color, ly in zip(legend_labels, series_colors, LEG_Y):
    yy = 1 - ly / H
    shapes.append(dict(type="line", xref="paper", yref="paper", x0=480 / W, x1=547 / W,
                       y0=yy, y1=yy, line=dict(color=color, width=2)))
    annotations.append(dict(text=label, x=561 / W, y=yy, xref="paper", yref="paper",
                            xanchor="left", yanchor="middle", showarrow=False,
                            font=dict(family=FONT, size=16.3, color="black")))

layout["annotations"] = annotations
layout["shapes"] = shapes
fig.update_layout(**layout)
fig.write_html("out.html",
               config={"displayModeBar": False, "staticPlot": True},
               post_script="document.body.style.margin='0px';document.body.style.padding='0px';")
